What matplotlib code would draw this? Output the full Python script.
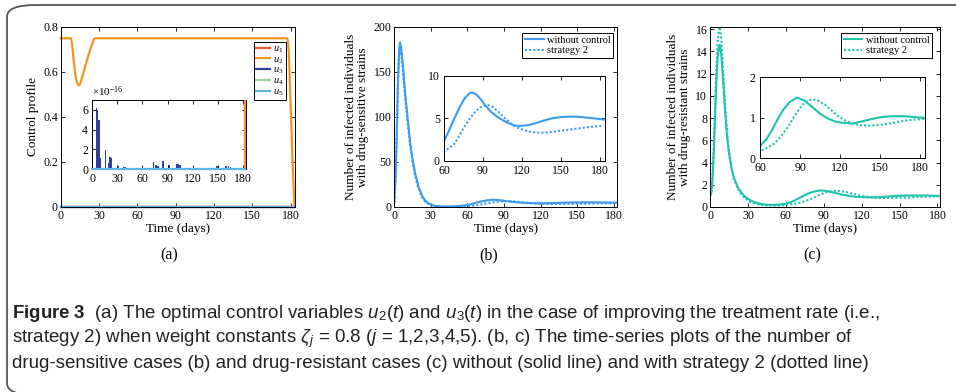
import numpy as np
import matplotlib
matplotlib.use("Agg")
import matplotlib.pyplot as plt
from matplotlib import font_manager
from matplotlib.patches import FancyBboxPatch

# pick a condensed sans for the caption if there is one
names = {f.name for f in font_manager.fontManager.ttflist}
CAP_FONT = "Liberation Sans Narrow" if "Liberation Sans Narrow" in names else "Liberation Sans"

plt.rcParams['font.family'] = ['Liberation Serif', 'DejaVu Serif']
plt.rcParams['mathtext.fontset'] = 'custom'
plt.rcParams['mathtext.rm'] = 'Liberation Serif'
plt.rcParams['mathtext.it'] = 'Liberation Serif:italic'
plt.rcParams['mathtext.bf'] = CAP_FONT + ':bold'
plt.rcParams['mathtext.sf'] = CAP_FONT + ':italic'
plt.rcParams['mathtext.tt'] = CAP_FONT

# ---- panel (a): control u2 (others stay at 0) ----
u2_t = [0, 8, 9, 10, 11, 12, 13, 14, 15, 16, 18, 20, 22, 24, 26, 27, 177.5, 178.5, 180, 181.5, 183]
u2_v = [0.75, 0.75, 0.72, 0.66, 0.61, 0.57, 0.55, 0.54, 0.545, 0.56, 0.60, 0.64, 0.68, 0.715, 0.745,
        0.75, 0.75, 0.70, 0.45, 0.20, 0.0]
zero_t = [0, 183]
zero_v = [0, 0]
# u3 spikes seen in the inset (units of 1e-16)
u3_t = [0.5, 5, 6, 7, 8, 9, 10, 15.5, 20, 21, 22.5, 31.5, 38, 40, 50, 54, 58, 62, 65, 73.5, 76, 78.5,
        84.5, 91.5, 100.5, 102.5, 105, 107, 120, 129, 149, 160, 162.5, 165]
u3_h = [6.3, 6.2, 6.0, 5.0, 5.0, 1.2, 1.1, 1.9, 0.6, 1.2, 1.1, 0.35, 0.25, 0.25, 0.08, 0.08, 0.08,
        0.08, 0.08, 0.7, 0.4, 0.35, 0.8, 0.45, 0.5, 0.5, 0.45, 0.15, 0.12, 0.12, 0.3, 0.35, 0.35, 0.2]

# ---- panel (b): drug-sensitive cases ----
bs_t = [0, 1, 2, 3, 4, 4.7, 5.5, 7, 9, 11, 13, 15, 17, 20, 23, 26, 30, 35, 40, 45, 50, 55, 60, 64,
        68, 72, 76, 80, 82, 85, 88, 92, 96, 100, 105, 110, 115, 119, 125, 130, 136, 143, 150, 156,
        162, 169, 176, 183]
bs_v = [5, 30, 80, 140, 176, 183, 178, 158, 125, 98, 72, 53, 38, 22, 12, 6, 2.5, 1.0, 0.6, 0.6, 0.8,
        1.3, 2.3, 3.6, 5.0, 6.3, 7.4, 8.0, 8.05, 7.8, 7.3, 6.5, 5.8, 5.3, 4.8, 4.4, 4.15, 4.1, 4.2,
        4.4, 4.7, 5.0, 5.15, 5.2, 5.2, 5.1, 5.0, 4.85]
bd_t = [0, 1, 2, 3, 4, 4.7, 5.5, 7, 9, 11, 13, 15, 17, 20, 23, 26, 30, 35, 40, 45, 50, 55, 60, 64,
        68, 72, 76, 80, 84, 88, 93, 97, 101, 105, 110, 115, 120, 125, 130, 135, 141, 148, 156, 163,
        170, 177, 183]
bd_v = [5, 30, 78, 136, 170, 176, 172, 152, 120, 93, 68, 50, 35, 20, 10, 5, 2.0, 0.8, 0.4, 0.3,
        0.35, 0.6, 1.05, 1.5, 2.0, 3.0, 4.1, 5.0, 5.8, 6.3, 6.6, 6.4, 5.9, 5.3, 4.6, 4.0, 3.7, 3.45,
        3.35, 3.3, 3.35, 3.5, 3.65, 3.8, 3.95, 4.05, 4.1]

# ---- panel (c): drug-resistant cases ----
cs_t = [0, 1, 2, 3, 4, 5, 6, 7, 7.8, 9, 10, 11, 12, 13, 14, 15, 17, 19, 22, 25, 28, 32, 36, 40, 45,
        50, 55, 60, 65, 69, 73, 77, 82, 87.5, 93, 99, 105, 111, 116, 121, 129, 135, 141, 148, 154,
        160, 166, 172, 178, 183]
cs_v = [1.0, 1.2, 2.5, 5.0, 8.2, 11.2, 13.4, 14.4, 14.6, 13.6, 12.0, 10.3, 8.5, 7.0, 5.8, 4.9, 3.5,
        2.6, 1.8, 1.25, 0.9, 0.6, 0.4, 0.28, 0.2, 0.18, 0.22, 0.3, 0.48, 0.7, 0.95, 1.18, 1.38, 1.5,
        1.43, 1.27, 1.1, 0.98, 0.91, 0.88, 0.86, 0.9, 0.95, 1.0, 1.03, 1.04, 1.04, 1.03, 1.01, 1.0]
cd_t = [0, 1, 2, 3, 4, 5, 6, 7, 7.8, 9, 10, 11, 12, 13, 14, 15, 17, 19, 22, 25, 28, 32, 36, 40, 45,
        50, 55, 60, 66, 71, 76, 81, 85, 88.75, 93, 98.75, 103, 108.75, 114, 118.75, 124, 128.75, 134,
        138.75, 143, 148.75, 155, 161, 167, 173.75, 178, 183]
cd_v = [1.0, 1.3, 2.7, 5.5, 9.0, 12.4, 14.8, 16.0, 16.2, 15.0, 13.2, 11.2, 9.2, 7.5, 6.1, 5.0, 3.5,
        2.5, 1.65, 1.1, 0.75, 0.45, 0.3, 0.2, 0.14, 0.12, 0.13, 0.18, 0.27, 0.37, 0.55, 0.78, 1.0,
        1.19, 1.36, 1.46, 1.43, 1.32, 1.17, 1.03, 0.93, 0.86, 0.82, 0.81, 0.81, 0.82, 0.85, 0.88,
        0.92, 0.95, 0.96, 0.97]

C_U1 = '#f0582a'
C_U2 = '#f7941d'
C_U3 = '#2e3f9e'
C_U4 = '#9bd39b'
C_U5 = '#5db4e5'
C_B = '#3c9bf0'
C_C = '#1fc4ad'

W, H = 956, 392
fig = plt.figure(figsize=(W / 100, H / 100), dpi=100)


def box(x0, y0, x1, y1):
    # pixel box (top-left origin) -> figure fraction rect
    return [x0 / W, 1 - y1 / H, (x1 - x0) / W, (y1 - y0) / H]


def style(ax, fs=8.5, pad=2):
    ax.tick_params(direction='in', top=True, right=True, length=3, width=0.6, labelsize=fs, pad=pad)
    for s in ax.spines.values():
        s.set_linewidth(0.7)


def small_legend(ax, anchor):
    leg = ax.legend(loc='upper right', bbox_to_anchor=anchor, fontsize=7.5, handlelength=1.8,
                    handletextpad=0.3, borderpad=0.25, labelspacing=0.1, fancybox=False,
                    framealpha=1, edgecolor='black', borderaxespad=0)
    leg.get_frame().set_linewidth(0.7)


# outer rounded frame, running off the right edge
fig.patches.append(FancyBboxPatch((7 / W, 1 - 395 / H), 1000 / W, 390 / H,
                                  boxstyle="round,pad=0,rounding_size=0.03",
                                  transform=fig.transFigure, fill=False,
                                  edgecolor='#555555', linewidth=1.3))

# ---------------- (a) ----------------
axa = fig.add_axes(box(60.7, 27, 295, 207))
axa.plot(zero_t, zero_v, color=C_U1, lw=1.6, label='$u_1$', clip_on=False)
axa.plot(u2_t, u2_v, color=C_U2, lw=1.6, label='$u_2$', clip_on=False)
axa.plot(zero_t, zero_v, color=C_U3, lw=1.6, label='$u_3$', clip_on=False)
axa.plot(zero_t, zero_v, color=C_U4, lw=1.6, label='$u_4$', clip_on=False)
axa.plot(zero_t, zero_v, color=C_U5, lw=1.6, label='$u_5$', clip_on=False)
axa.set_xlim(0, 183.4)
axa.set_ylim(0, 0.8)
axa.set_xticks(range(0, 181, 30))
axa.set_yticks([0, 0.2, 0.4, 0.6, 0.8])
axa.set_yticklabels(['0', '0.2', '0.4', '0.6', '0.8'])
axa.set_xlabel('Time (days)', fontsize=9.5, labelpad=1)
axa.set_ylabel('Control profile', fontsize=9.5, labelpad=3)
style(axa)
leg = axa.legend(loc='upper right', bbox_to_anchor=(0.962, 0.917), fontsize=7.5, handlelength=1.3,
                 handletextpad=0.35, borderpad=0.2, labelspacing=0.0, fancybox=False,
                 framealpha=1, edgecolor='black', borderaxespad=0)
leg.get_frame().set_linewidth(0.7)

ia = fig.add_axes(box(92.3, 100, 245.7, 169))
ia.bar(u3_t, np.array(u3_h) * 1e-16, width=1.6, color=C_U3, linewidth=0)
ia.plot(u2_t, u2_v, color=C_U2, lw=1.6, zorder=3)
ia.plot(zero_t, zero_v, color=C_U5, lw=1.6, clip_on=False, zorder=3)
ia.set_xlim(0, 183.4)
ia.set_ylim(0, 7e-16)
ia.set_xticks(range(0, 181, 30))
ia.set_yticks([0, 2e-16, 4e-16, 6e-16])
ia.set_yticklabels(['0', '2', '4', '6'])
ia.text(0, 1.02, r'$\times 10^{-16}$', transform=ia.transAxes, fontsize=8, ha='left', va='bottom')
style(ia, pad=3)

# ---------------- (b) ----------------
axb = fig.add_axes(box(394.3, 27, 617.3, 207))
axb.plot(bs_t, bs_v, color=C_B, lw=1.5, label='without control')
axb.plot(bd_t, bd_v, color=C_B, lw=1.5, ls=(0, (1, 1)), label='strategy 2')
axb.set_xlim(0, 183)
axb.set_ylim(0, 200)
axb.set_xticks(range(0, 181, 30))
axb.set_yticks(range(0, 201, 50))
axb.set_xlabel('Time (days)', fontsize=9.5, labelpad=1)
axb.set_ylabel('Number of infected individuals\nwith drug-sensitive strains', fontsize=9.5,
               labelpad=3, linespacing=1.0)
style(axb)
small_legend(axb, (0.982, 0.967))

ib = fig.add_axes(box(444, 76, 605, 160.7))
ib.plot(bs_t, bs_v, color=C_B, lw=1.5)
ib.plot(bd_t, bd_v, color=C_B, lw=1.5, ls=(0, (1, 1)))
ib.set_xlim(60, 184)
ib.set_ylim(0, 10)
ib.set_xticks(range(60, 181, 30))
ib.set_yticks([0, 5, 10])
style(ib, pad=3)

# ---------------- (c) ----------------
axc = fig.add_axes(box(710, 27, 940, 207))
axc.plot(cs_t, cs_v, color=C_C, lw=1.5, label='without control')
axc.plot(cd_t, cd_v, color=C_C, lw=1.5, ls=(0, (1, 1)), label='strategy 2')
axc.set_xlim(0, 182)
axc.set_ylim(0, 16.2)
axc.set_xticks(range(0, 181, 30))
axc.set_yticks(range(0, 17, 2))
axc.set_xlabel('Time (days)', fontsize=9.5, labelpad=1)
axc.set_ylabel('Number of infected individuals\nwith drug-resistant strains', fontsize=9.5,
               labelpad=3, linespacing=1.0)
style(axc)
small_legend(axc, (0.965, 0.967))

ic = fig.add_axes(box(760, 77.3, 925, 158.3))
ic.plot(cs_t, cs_v, color=C_C, lw=1.5)
ic.plot(cd_t, cd_v, color=C_C, lw=1.5, ls=(0, (1, 1)))
ic.set_xlim(60, 183.5)
ic.set_ylim(0, 2)
ic.set_xticks(range(60, 181, 30))
ic.set_yticks([0, 1, 2])
style(ic, pad=3)

# panel letters
for lab, xp in [('(a)', 169), ('(b)', 489), ('(c)', 812)]:
    fig.text(xp / W, 1 - 255 / H, lab, fontsize=11.5, ha='center', va='center')

# caption
cap = [
    r"$\mathbf{Figure\ 3}$  (a) The optimal control variables $\mathsf{u}_\mathtt{2}$($\mathsf{t}$) and "
    r"$\mathsf{u}_\mathtt{3}$($\mathsf{t}$) in the case of improving the treatment rate (i.e.,",
    r"strategy 2) when weight constants $\mathsf{\zeta}_\mathsf{j}$ = 0.8 ($\mathsf{j}$ = 1,2,3,4,5). "
    r"(b, c) The time-series plots of the number of",
    r"drug-sensitive cases (b) and drug-resistant cases (c) without (solid line) and with strategy 2 (dotted line)",
]
for i, line in enumerate(cap):
    fig.text(12 / W, 1 - (314 + 25 * i) / H, line, fontsize=13.5, family=CAP_FONT,
             ha='left', va='center', color='#222222')

fig.savefig('out.png', dpi=100)
